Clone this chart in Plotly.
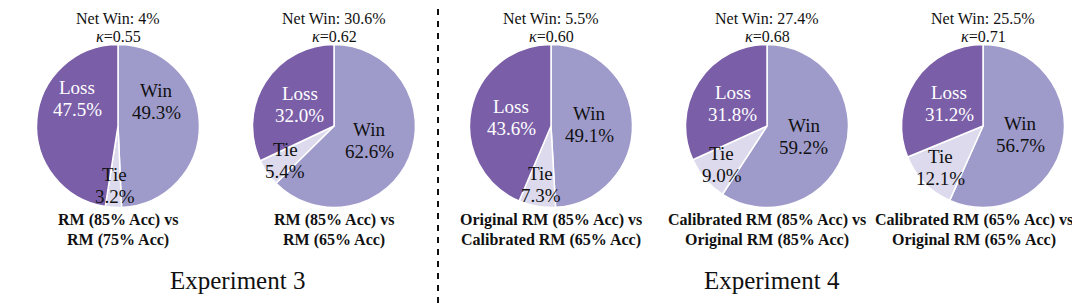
import math

import plotly.graph_objects as go

# the page has an 8px body margin, so the figure is drawn slightly smaller
# and every position below is given in window pixels
OFFSET = 8
W, H = 1080 - OFFSET, 303 - OFFSET

CATEGORIES = ["Win", "Tie", "Loss"]
WIN = [49.3, 62.6, 49.1, 59.2, 56.7]
TIE = [3.2, 5.4, 7.3, 9.0, 12.1]
LOSS = [47.5, 32.0, 43.6, 31.8, 31.2]
NET_WIN = ["4%", "30.6%", "5.5%", "27.4%", "25.5%"]
KAPPA = ["0.55", "0.62", "0.60", "0.68", "0.71"]
PAIR_LABELS = [
    ("RM (85% Acc) vs", "RM (75% Acc)"),
    ("RM (85% Acc) vs", "RM (65% Acc)"),
    ("Original RM (85% Acc) vs", "Calibrated RM (65% Acc)"),
    ("Calibrated RM (85% Acc) vs", "Original RM (85% Acc)"),
    ("Calibrated RM (65% Acc) vs", "Original RM (65% Acc)"),
]
GROUPS = ["Experiment 3", "Experiment 4"]

COLORS = {"Win": "#9e9bcb", "Tie": "#dcdaec", "Loss": "#7b5ea8"}
TEXT_COLORS = {"Win": "#111111", "Tie": "#111111", "Loss": "#ffffff"}
LABEL_RADIUS = {"Win": 0.47, "Tie": 0.73, "Loss": 0.5}

FONT = "Liberation Serif"
INK = "#111111"

# pixel layout of the pies
centers_x = [118, 334, 551, 767, 983]
center_y = 126
radius = 81.5
# first pie has its Win/Loss labels lifted above the middle
label_lift = [-24, 0, 0, 0, 0]
# last caption pulled in a little so it stays inside the window
caption_shift = [0, 0, 0, 0, -9]
group_x = [237, 772]


def px_x(x):
    return (x - OFFSET) / W


def px_y(y):
    return 1 - (y - OFFSET) / H


def text_at(x, y, text, size, color=INK):
    return dict(
        x=px_x(x), y=px_y(y), xref="paper", yref="paper",
        text=text, showarrow=False, xanchor="center", yanchor="middle",
        borderpad=0,
        font={"family": FONT, "size": size, "color": color},
    )


fig = go.Figure()
annotations = []

for i, cx in enumerate(centers_x):
    values = [WIN[i], TIE[i], LOSS[i]]
    fig.add_trace(go.Pie(
        labels=CATEGORIES,
        values=values,
        sort=False,
        direction="clockwise",
        rotation=0,
        textinfo="none",
        hoverinfo="label+value",
        marker={"colors": [COLORS[c] for c in CATEGORIES],
                "line": {"color": "white", "width": 1.5}},
        domain={"x": [px_x(cx - radius), px_x(cx + radius)],
                "y": [px_y(center_y + radius), px_y(center_y - radius)]},
        showlegend=False,
    ))

    # slice labels placed at the middle angle of each slice
    total = sum(values)
    start = 0
    for cat, v in zip(CATEGORIES, values):
        mid = (start + v / 2) / total * 2 * math.pi
        start += v
        r = radius * LABEL_RADIUS[cat]
        lx = cx + r * math.sin(mid)
        ly = center_y - r * math.cos(mid)
        if cat != "Tie":
            ly += label_lift[i]
        annotations.append(text_at(lx, ly - 11, cat, 19, TEXT_COLORS[cat]))
        annotations.append(text_at(lx, ly + 11, f"{v:.1f}%", 19, TEXT_COLORS[cat]))

    annotations.append(text_at(cx, 18.5, f"Net Win: {NET_WIN[i]}", 16))
    annotations.append(text_at(cx, 36, f"<i>κ</i>={KAPPA[i]}", 16))

    top, bottom = PAIR_LABELS[i]
    lx = cx + caption_shift[i]
    annotations.append(text_at(lx, 220, f"<b>{top}</b>", 16))
    annotations.append(text_at(lx, 239.5, f"<b>{bottom}</b>", 16))

for label, gx in zip(GROUPS, group_x):
    annotations.append(text_at(gx, 280, label, 25))

fig.add_shape(
    type="line", xref="paper", yref="paper",
    x0=px_x(438), x1=px_x(438), y0=0, y1=px_y(0),
    line={"color": INK, "width": 2, "dash": "6px,6px"},
)

fig.update_layout(
    width=W, height=H,
    margin={"l": 0, "r": 0, "t": 0, "b": 0},
    paper_bgcolor="white",
    plot_bgcolor="white",
    annotations=annotations,
)

fig.write_html("out.html")
